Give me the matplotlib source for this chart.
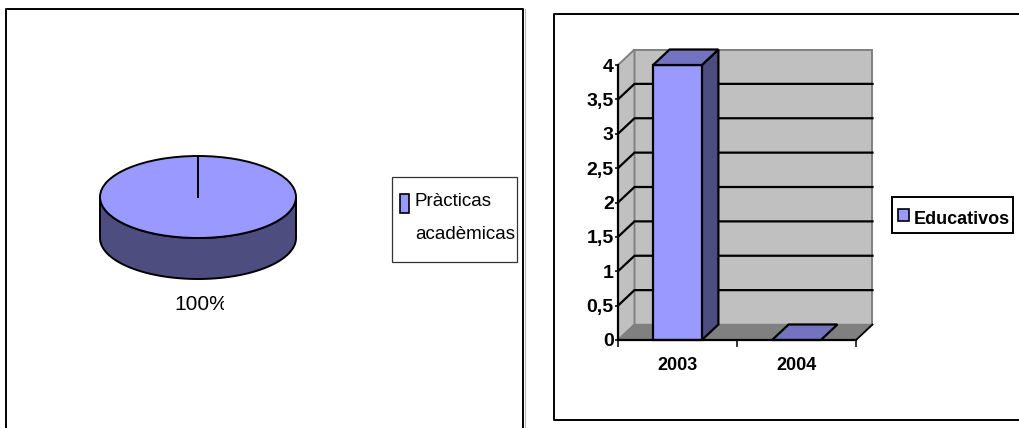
import matplotlib
matplotlib.use("Agg")
import numpy as np
import matplotlib.pyplot as plt
from matplotlib.patches import Polygon, Rectangle

W, H = 1020, 428

# pie data
pie_labels = ["Pràcticas", "acadèmicas"]
pie_values = [100]
pie_text = "100%"

# bar data
years = ["2003", "2004"]
educativos = [4, 0]
y_ticks = [0, 0.5, 1, 1.5, 2, 2.5, 3, 3.5, 4]
y_tick_labels = ["0", "0,5", "1", "1,5", "2", "2,5", "3", "3,5", "4"]
bar_legend = "Educativos"

LIGHT = "#9999FF"
DARK = "#4D4D80"
MID = "#7373BF"
WALL = "#C0C0C0"
FLOOR = "#808080"
SANS = "Liberation Sans"


def px_axes(x0, y0, x1, y1):
    # axes from pixel box, y measured from the top
    return fig.add_axes([x0 / W, 1 - y1 / H, (x1 - x0) / W, (y1 - y0) / H])


fig = plt.figure(figsize=(W / 100, H / 100), dpi=100, facecolor="white")

# page layer, in pixels
page = px_axes(0, 0, W, H)
page.set_xlim(0, W)
page.set_ylim(H, 0)
page.axis("off")

# chart frames
page.plot([525, 525], [8.5, H], color="#BBBBBB", lw=0.8)
page.plot([6, 6, 523.5, 523.5], [H, 8.5, 8.5, H], color="black", lw=1.4)
page.plot([W, 554, 554, W], [13.5, 13.5, 419.5, 419.5], color="black", lw=1.4)

# legends
page.add_patch(Rectangle((392.5, 177), 125, 85, fc="white", ec="#333333", lw=0.9))
page.add_patch(Rectangle((400, 194), 9, 19, fc=LIGHT, ec="black", lw=1.2))
page.text(415, 201, pie_labels[0], family=SANS, fontsize=13.5, va="center", ha="left", color="black")
page.text(415, 234, pie_labels[1], family=SANS, fontsize=13.5, va="center", ha="left", color="black")

page.add_patch(Rectangle((892, 197), 121, 36, fc="white", ec="black", lw=1.4))
page.add_patch(Rectangle((898, 209), 11, 12, fc=LIGHT, ec="black", lw=1.2))
page.text(914, 219, bar_legend, family=SANS, fontsize=13, fontweight="bold",
          va="center", ha="left", color="black")

# pie: one wedge squashed into an ellipse, sitting on a band
pie_ax = px_axes(100, 156, 296, 279)
wedges, _ = pie_ax.pie(pie_values, startangle=90, radius=1, colors=[LIGHT],
                       wedgeprops=dict(edgecolor="black", linewidth=1.4, zorder=3, clip_on=False))
pie_ax.set_aspect("auto")
pie_ax.set_xlim(-1, 1)
pie_ax.set_ylim(-2, 1)
pie_ax.axis("off")
t = np.linspace(np.pi, 2 * np.pi, 80)
band = np.r_[np.c_[np.cos(t), np.sin(t)], np.c_[np.cos(t[::-1]), np.sin(t[::-1]) - 1]]
pie_ax.add_patch(Polygon(band, fc=DARK, ec="black", lw=1.4, zorder=2, clip_on=False))
# seam of the single slice
pie_ax.plot([0, 0], [0, 1], color="black", lw=1.4, zorder=4, clip_on=False)

pct = page.text(174, 304, pie_text, family=SANS, fontsize=15, va="center", ha="left",
                color="black", clip_on=True)
pct.set_clip_path(Rectangle((160, 285), 64, 40, transform=page.transData))

# bar chart: front plane runs 0..4 over the pixel box
ax = px_axes(618, 65, 856, 340)
ax.set_xlim(-0.5, 1.5)
ax.set_ylim(0, 4)
ax.patch.set_visible(False)
dx, dy = 16.5 / 119, 15.5 / (275 / 4)
x0, x1 = ax.get_xlim()
ax.add_patch(Polygon([(x0 + dx, dy), (x1 + dx, dy), (x1 + dx, 4 + dy), (x0 + dx, 4 + dy)],
                     fc=WALL, ec=FLOOR, lw=1.4, clip_on=False, zorder=1))
ax.add_patch(Polygon([(x0, 0), (x0 + dx, dy), (x0 + dx, 4 + dy), (x0, 4)],
                     fc=WALL, ec=FLOOR, lw=1.4, clip_on=False, zorder=1))
ax.add_patch(Polygon([(x0, 0), (x1, 0), (x1 + dx, dy), (x0 + dx, dy)],
                     fc=FLOOR, ec=FLOOR, lw=1.0, clip_on=False, zorder=1.1))
ax.plot([x1, x1 + dx], [0, dy], color="black", lw=1.3, clip_on=False, zorder=1.2)

for v in y_ticks[1:-1]:
    ax.plot([x0, x0 + dx, x1 + dx], [v, v + dy, v + dy], color="black", lw=1.6,
            clip_on=False, zorder=1.5, solid_joinstyle="miter")

bar_w = 0.41
for i, v in enumerate(educativos):
    l, r = i - bar_w / 2, i + bar_w / 2
    if v > 0:
        ax.add_patch(Polygon([(r, 0), (r + dx, dy), (r + dx, v + dy), (r, v)],
                             fc=DARK, ec="black", lw=1.6, clip_on=False, zorder=2))
        ax.add_patch(Rectangle((l, 0), bar_w, v, fc=LIGHT, ec="black", lw=1.6,
                               clip_on=False, zorder=2.1))
    ax.add_patch(Polygon([(l, v), (r, v), (r + dx, v + dy), (l + dx, v + dy)],
                         fc=MID, ec="black", lw=1.6, clip_on=False, zorder=2.2))

for s in ["top", "right"]:
    ax.spines[s].set_visible(False)
for s in ["left", "bottom"]:
    ax.spines[s].set_linewidth(1.6)
    ax.spines[s].set_zorder(3)
ax.set_yticks(y_ticks, y_tick_labels)
ax.set_xticks([-0.5, 0.5, 1.5], ["", "", ""])
ax.tick_params(axis="y", length=2.5, width=1.1, pad=0.5)
ax.tick_params(axis="x", length=5, width=1.1)
for lab in ax.get_yticklabels():
    lab.set(family=SANS, fontweight="bold", fontsize=14)
for i, y in enumerate(years):
    ax.text(i, -0.37, y, family=SANS, fontweight="bold", fontsize=13,
            ha="center", va="center", color="black")

fig.savefig("out.png", dpi=100, facecolor="white")
